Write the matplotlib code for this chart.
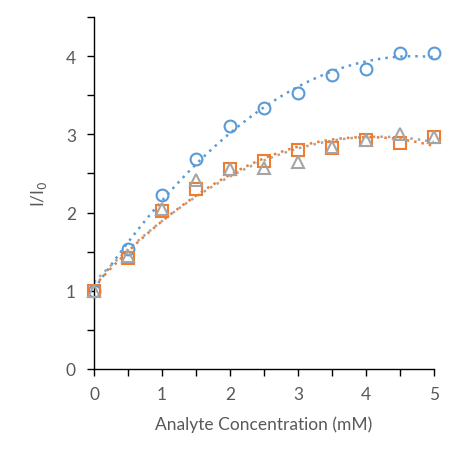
import matplotlib.pyplot as plt
import numpy as np

plt.rcParams['font.family'] = ['Lato', 'DejaVu Sans']

# concentrations (mM)
conc = [0, 0.5, 1, 1.5, 2, 2.5, 3, 3.5, 4, 4.5, 5]
# I/I0 for the three series
ratio_blue = [1.0, 1.53, 2.22, 2.69, 3.11, 3.34, 3.53, 3.76, 3.83, 4.04, 4.04]
ratio_orange = [1.0, 1.42, 2.02, 2.30, 2.56, 2.66, 2.80, 2.83, 2.93, 2.89, 2.96]
ratio_gray = [1.0, 1.45, 2.04, 2.41, 2.56, 2.57, 2.64, 2.84, 2.93, 3.01, 2.97]

series = [
    (ratio_blue, '#5B9BD5', 'o'),
    (ratio_orange, '#ED7D31', 's'),
    (ratio_gray, '#A5A5A5', '^'),
]

fig = plt.figure(figsize=(4.5, 4.56), dpi=100)
ax = fig.add_axes([0.209, 0.1886, 0.755, 0.772])

xs = np.linspace(0, 5, 200)
for vals, color, mk in series:
    # polynomial trendline, like Excel's order 2 fit
    coef = np.polyfit(conc, vals, 2)
    ax.plot(xs, np.polyval(coef, xs), ls=(0, (1, 2)), lw=1.8, color=color, zorder=2)
for vals, color, mk in series:
    ax.plot(conc, vals, ls='none', marker=mk, ms=8.5, mfc='none',
            mec=color, mew=1.5, zorder=3, clip_on=False)

ax.set_xlim(0, 5)
ax.set_ylim(0, 4.5)
ax.set_xticks(np.arange(0, 5.01, 1))
ax.set_xticks(np.arange(0, 5.01, 0.5), minor=True)
ax.set_yticks(np.arange(0, 4.01, 1))
ax.set_yticks(np.arange(0, 4.51, 0.5), minor=True)
for s in ['top', 'right']:
    ax.spines[s].set_visible(False)
for s in ['left', 'bottom']:
    ax.spines[s].set_color('black')
    ax.spines[s].set_linewidth(1)
ax.tick_params(which='both', direction='out', length=5, width=1, colors='black',
               labelcolor='#595959', labelsize=12.5)
ax.tick_params(axis='x', pad=7)
ax.tick_params(axis='y', pad=8)

ax.set_xlabel('Analyte Concentration (mM)', fontsize=12.5, color='#595959', labelpad=10)
ax.set_ylabel('I/I$_0$', fontsize=12.5, color='#595959', labelpad=12)

fig.savefig('out.png', dpi=100)
